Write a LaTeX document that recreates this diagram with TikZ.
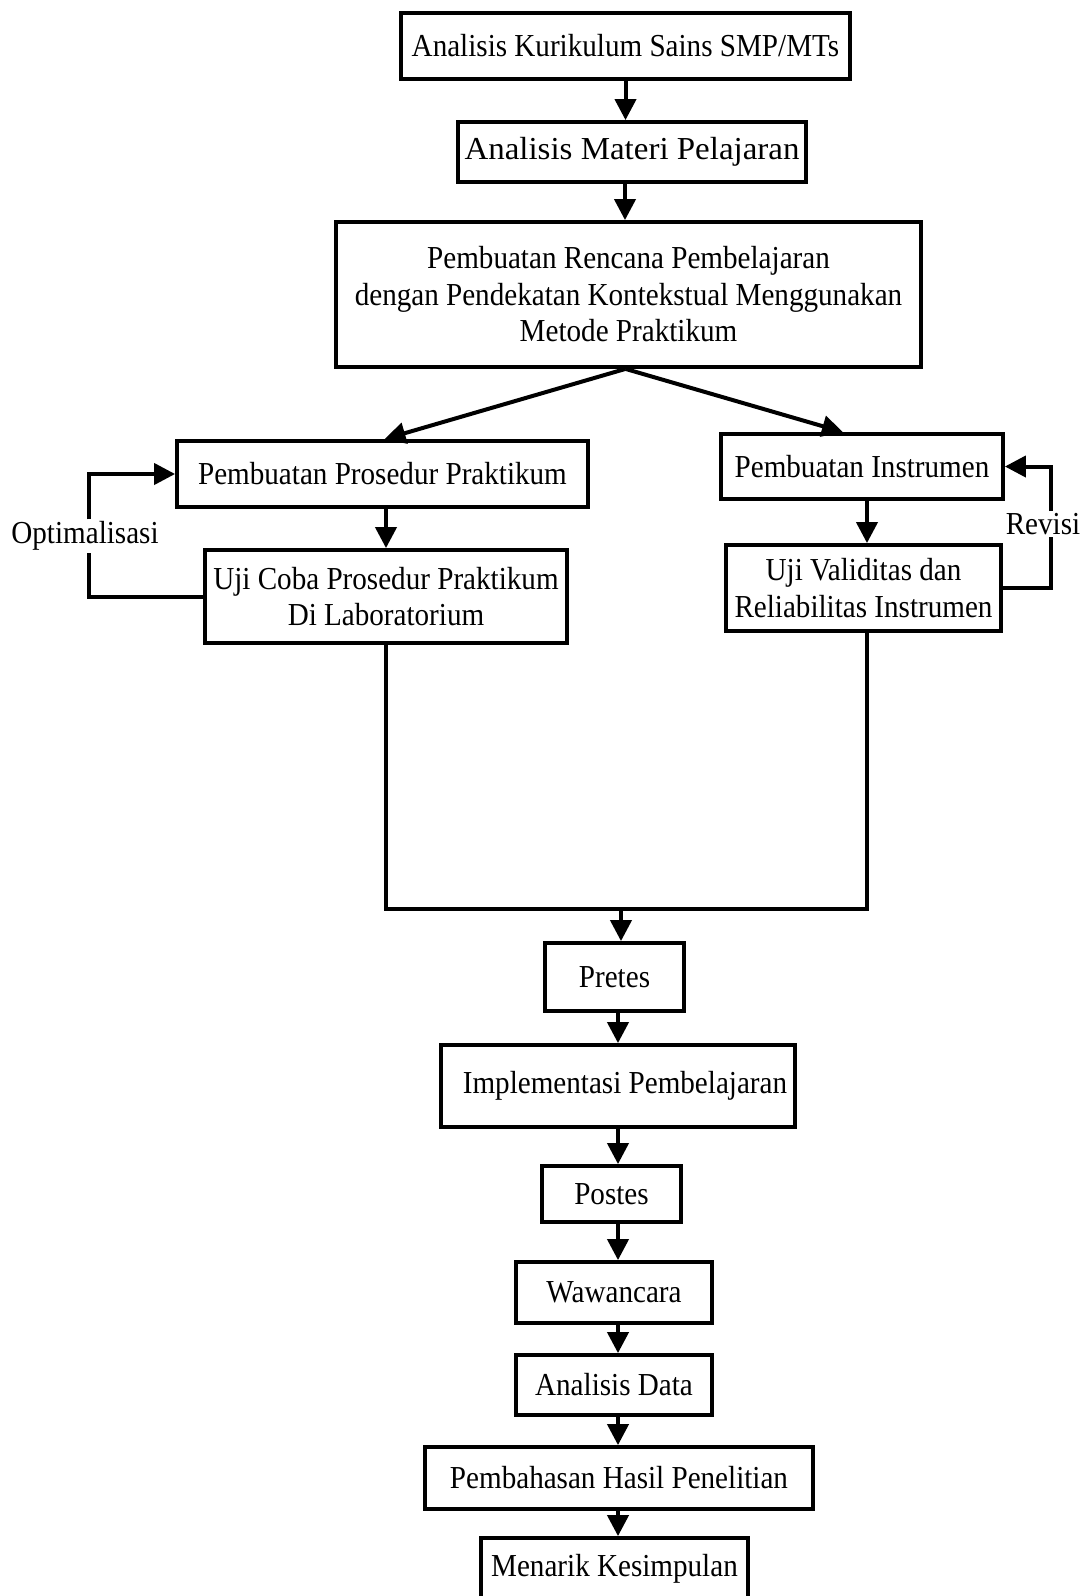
\documentclass[tikz,border=0pt]{standalone}
\usepackage{fontspec}
\setmainfont[FakeStretch=0.91]{Liberation Serif}
\newfontfamily\widefont[FakeStretch=1.03]{Liberation Serif}
\usetikzlibrary{arrows.meta,calc}
\begin{document}
\begin{tikzpicture}[x=1pt,y=-1pt,
  box/.style={draw, line width=3.8pt, inner sep=0pt, align=center, font=\fontsize{32}{36.5}\selectfont},
  conn/.style={line width=4pt},
  arr/.style={conn, -{Triangle[width=21pt,length=21pt]}},
  lbl/.style={inner sep=2pt, font=\fontsize{32}{36}\selectfont}]
\useasboundingbox (0,0) rectangle (1084,1596);
\fill[white] (0,0) rectangle (1084,1596);

\node[box, minimum width=449pt, minimum height=66pt] (b1) at (625.5,46) {Analisis Kurikulum Sains SMP/MTs};
\node[box, minimum width=348pt, minimum height=60pt, font=\fontsize{32}{36}\widefont] (b2) at (632,152) {Analisis Materi Pelajaran};
\node[box, minimum width=585pt, minimum height=145pt] (b3) at (628.5,294.5) {Pembuatan Rencana Pembelajaran\\dengan Pendekatan Kontekstual Menggunakan\\Metode Praktikum};
\node[box, minimum width=411pt, minimum height=66pt] (b4) at (382.5,474) {Pembuatan Prosedur Praktikum};
\node[box, minimum width=282pt, minimum height=65pt] (b5) at (862,466.5) {Pembuatan Instrumen};
\node[box, minimum width=362pt, minimum height=93pt] (b6) at (386,596.5) {Uji Coba Prosedur Praktikum\\Di Laboratorium};
\node[box, minimum width=275pt, minimum height=86pt] (b7) at (863.5,588) {Uji Validitas dan\\Reliabilitas Instrumen};
\node[box, minimum width=139pt, minimum height=68pt] (pre) at (614.5,977) {Pretes};
\node[box, minimum width=354pt, minimum height=82pt] (imp) at (618,1086) {\hspace*{14pt}Implementasi Pembelajaran};
\node[box, minimum width=139pt, minimum height=56pt] (pos) at (611.5,1194) {Postes};
\node[box, minimum width=196pt, minimum height=61pt] (waw) at (614,1292.5) {Wawancara};
\node[box, minimum width=196pt, minimum height=60pt] (ana) at (614,1385) {Analisis Data};
\node[box, minimum width=388pt, minimum height=62pt] (pem) at (619,1478) {Pembahasan Hasil Penelitian};
\node[box, minimum width=267pt, minimum height=62pt] (men) at (614.5,1569) {Menarik Kesimpulan};

\node[lbl] (opt) at (85,536) {Optimalisasi};
\node[lbl] (rev) at (1043,524) {Revisi};

\coordinate (lx) at (89,0);
\coordinate (rx) at (1051,0);
\coordinate (ax) at (618,0);
\coordinate (m) at (621,909);

% top chain
\draw[arr] (b1.south) -- (b1.south |- b2.north);
\draw[arr] ([xshift=-7pt]b2.south) -- ([xshift=-7pt]b2.south |- b3.north);
\draw[arr] ([xshift=-3pt]b3.south) -- ([xshift=2pt]b4.north);
\draw[arr] ([xshift=-3pt]b3.south) -- ([xshift=-19pt]b5.north);
\draw[arr] (b6.north |- b4.south) -- (b6.north);
\draw[arr] ([xshift=5pt]b5.south) -- ([xshift=5pt]b5.south |- b7.north);

% loops
\draw[conn] (b6.west) -- (b6.west -| lx) -- (lx |- opt.south);
\draw[arr] (lx |- opt.north) -- (lx |- b4.west) -- (b4.west);
\draw[conn] (b7.east) -- (b7.east -| rx) -- (rx |- rev.south);
\draw[arr] (rx |- rev.north) -- (rx |- b5.east) -- (b5.east);

% merge
\draw[conn] (b6.south) |- (m) -| ([xshift=3pt]b7.south);
\draw[arr] (m) -- (m |- pre.north);

% lower chain
\draw[arr] (pre.south -| ax) -- (imp.north -| ax);
\draw[arr] (imp.south -| ax) -- (pos.north -| ax);
\draw[arr] (pos.south -| ax) -- (waw.north -| ax);
\draw[arr] (waw.south -| ax) -- (ana.north -| ax);
\draw[arr] (ana.south -| ax) -- (pem.north -| ax);
\draw[arr] (pem.south -| ax) -- (men.north -| ax);
\end{tikzpicture}
\end{document}
